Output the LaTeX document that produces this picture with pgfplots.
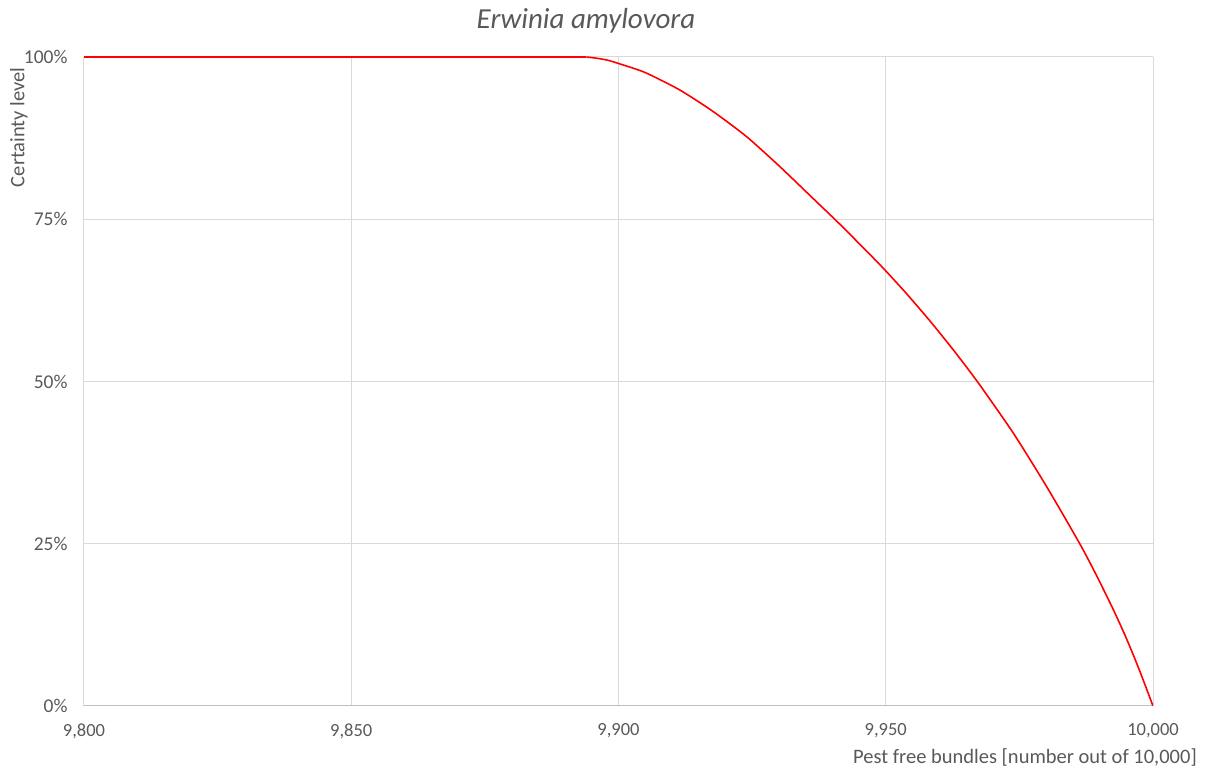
\documentclass[border=0pt]{standalone}
\usepackage{pgfplots}
\pgfplotsset{compat=1.18}
\usepackage{fontspec}
\setmainfont{Carlito}
\definecolor{txt}{HTML}{595959}
\definecolor{grd}{HTML}{D9D9D9}
\definecolor{axl}{HTML}{BFBFBF}
\begin{document}
\begin{tikzpicture}[x=1pt,y=1pt]
\begin{axis}[
  at={(84pt,61pt)}, anchor=south west, scale only axis,
  width=1069pt, height=649pt,
  xmin=9800, xmax=10000, ymin=0, ymax=100,
  xtick={9800,9850,9900,9950,10000}, ytick={0,25,50,75,100},
  scaled x ticks=false, scaled y ticks=false,
  grid=major, major grid style={draw=grd, line width=1pt},
  axis x line*=bottom, axis y line*=left,
  x axis line style={draw=axl, line width=1pt, -},
  y axis line style={draw=none, -},
  major tick length=0pt, tick style={draw=none},
  /pgf/number format/.cd, 1000 sep={,}, assume math mode=true, /pgfplots/.cd,
  xticklabel={\pgfmathprintnumber[fixed,precision=0]{\tick}},
  tick label style={font=\fontsize{18.5}{18.5}\selectfont, text=txt},
  yticklabel={\pgfmathprintnumber{\tick}\%},
  yticklabel style={anchor=east, xshift=-13pt, font=\fontsize{19.5}{19.5}\selectfont},
  xticklabel style={anchor=north, yshift=-14pt},
]
\addplot[red, line width=1.6pt] coordinates {
(9800,100) (9850,100) (9894,100)
};
\addplot[red, line width=1.6pt, smooth, tension=0.4] coordinates {
(9894,100) (9896,99.8) (9898,99.5) (9900,99.0)
(9905,97.6) (9911.5,94.9) (9917.7,91.6) (9924,87.7) (9930.2,83.1)
(9936.4,78.2) (9941.7,74.0) (9948.9,68.0) (9953.6,63.8) (9958.3,59.3)
(9962.8,54.7) (9967.3,49.8) (9973.9,42.0) (9980.1,33.8) (9986.3,25.0)
(9989.5,20.0) (9992.6,14.8) (9994.6,11.2) (9996.3,7.9) (9997.7,5.0) (9998.9,2.4) (10000,0)
};
\end{axis}
\node[font=\fontsize{29}{29}\selectfont\itshape, text=txt] at (586,746) {Erwinia amylovora};
\node[font=\fontsize{20.5}{20.5}\selectfont, text=txt, rotate=90, anchor=east] at (19,703) {Certainty level};
\node[font=\fontsize{20.5}{20.5}\selectfont, text=txt, anchor=east, inner sep=0pt] at (1197,10) {Pest free bundles [number out of 10,000]};
\pgfresetboundingbox
\path[use as bounding box] (0,0) rectangle (1205,767);
\end{tikzpicture}
\end{document}
